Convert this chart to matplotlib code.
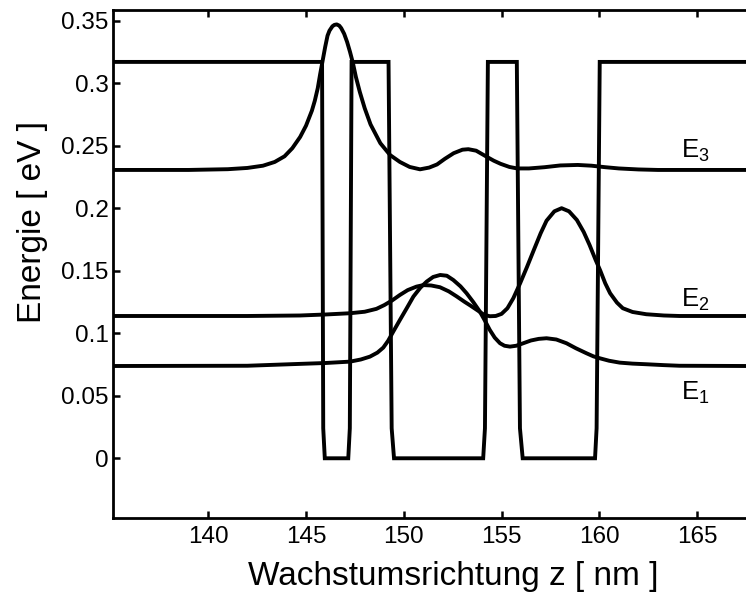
import matplotlib
matplotlib.use("Agg")
import matplotlib.pyplot as plt

plt.rcParams["font.family"] = ["Liberation Sans", "DejaVu Sans"]
plt.rcParams["mathtext.default"] = "regular"

# conduction band edge (eV) along growth direction (nm)
V_b = 0.317
z_pot = [135.13, 145.82, 145.88, 145.96, 147.16, 147.24, 147.33, 149.22, 149.38, 149.50,
         154.06, 154.15, 154.30, 155.78, 155.94, 156.08, 159.78, 159.86, 160.02, 167.5]
v_pot = [V_b, V_b, 0.024, 0.0, 0.0, 0.024, V_b, V_b, 0.024, 0.0,
         0.0, 0.024, V_b, V_b, 0.024, 0.0, 0.0, 0.024, V_b, V_b]

# |psi|^2 of the three subbands, offset by their energies
z_e3 = [135.13, 139.0, 141.0, 142.0, 142.8, 143.4, 143.9, 144.3, 144.7, 145.0, 145.3,
        145.45, 145.6, 145.72, 145.85, 145.98, 146.1, 146.2, 146.35, 146.45, 146.57,
        146.7, 146.8, 146.95, 147.1, 147.25, 147.4, 147.55, 147.75, 148.0, 148.3,
        148.8, 149.3, 149.8, 150.3, 150.83, 151.3, 151.7, 152.1, 152.55, 153.0, 153.3,
        153.7, 154.2, 154.6, 154.95, 155.4, 155.8, 156.4, 157.2, 158.0, 158.9, 159.6,
        160.3, 161.0, 162.0, 163.0, 167.5]
v_e3 = [0.2306, 0.2306, 0.2312, 0.2322, 0.2340, 0.2370, 0.2415, 0.2480, 0.2570, 0.2660,
        0.2780, 0.2860, 0.2960, 0.3070, 0.3180, 0.3290, 0.3380, 0.3420, 0.3455, 0.3466,
        0.3470, 0.3460, 0.3440, 0.3395, 0.3330, 0.3250, 0.3160, 0.3050, 0.2930, 0.2800,
        0.2670, 0.2520, 0.2425, 0.2370, 0.2330, 0.2311, 0.2325, 0.2350, 0.2395, 0.2440,
        0.2468, 0.2472, 0.2460, 0.2415, 0.2380, 0.2355, 0.2330, 0.2318, 0.2318, 0.2328,
        0.2342, 0.2346, 0.2340, 0.2328, 0.2318, 0.2310, 0.2306, 0.2306]

z_e2 = [135.13, 142.0, 144.7, 146.0, 147.25, 148.0, 148.6, 149.0, 149.4, 149.8, 150.2,
        150.65, 151.0, 151.4, 151.85, 152.3, 152.7, 153.1, 153.4, 153.8, 154.1, 154.4,
        154.7, 155.0, 155.3, 155.6, 155.95, 156.3, 156.65, 157.0, 157.3, 157.7, 158.07,
        158.45, 158.85, 159.2, 159.5, 159.8, 160.05, 160.3, 160.55, 160.9, 161.2, 161.7,
        162.4, 163.3, 164.1, 167.5]
v_e2 = [0.1138, 0.1138, 0.1142, 0.1150, 0.1160, 0.1172, 0.1195, 0.1225, 0.1262, 0.1306,
        0.1345, 0.1373, 0.1385, 0.1382, 0.1368, 0.1335, 0.1295, 0.1252, 0.1222, 0.1180,
        0.1148, 0.1136, 0.1138, 0.1155, 0.1200, 0.1280, 0.1400, 0.1530, 0.1666, 0.1800,
        0.1900, 0.1975, 0.2000, 0.1975, 0.1906, 0.1810, 0.1706, 0.1590, 0.1500, 0.1400,
        0.1320, 0.1245, 0.1200, 0.1170, 0.1152, 0.1142, 0.1138, 0.1138]

z_e1 = [135.13, 142.0, 144.7, 146.0, 147.25, 147.8, 148.27, 148.65, 148.95, 149.2, 149.45,
        149.8, 150.15, 150.49, 150.85, 151.17, 151.5, 151.86, 152.2, 152.53, 152.9, 153.21,
        153.55, 153.89, 154.15, 154.4, 154.65, 154.92, 155.15, 155.43, 155.75, 156.11,
        156.5, 156.9, 157.3, 157.8, 158.32, 158.8, 159.34, 159.7, 160.02, 160.5, 161.04,
        161.7, 162.41, 163.3, 164.1, 167.5]
v_e1 = [0.0738, 0.0740, 0.0755, 0.0762, 0.0773, 0.0790, 0.0813, 0.0845, 0.0885, 0.0940,
        0.1010, 0.1106, 0.1200, 0.1293, 0.1365, 0.1413, 0.1450, 0.1466, 0.1460, 0.1426,
        0.1375, 0.1320, 0.1250, 0.1173, 0.1100, 0.1026, 0.0965, 0.0920, 0.0900, 0.0893,
        0.0900, 0.0920, 0.0942, 0.0955, 0.0960, 0.0950, 0.0920, 0.0880, 0.0840, 0.0815,
        0.0800, 0.0780, 0.0765, 0.0757, 0.0752, 0.0745, 0.0740, 0.0738]

labels = ["E$_1$", "E$_2$", "E$_3$"]
label_z = 164.2
label_v = [0.0466, 0.1213, 0.2400]

yticks = [0, 0.05, 0.1, 0.15, 0.2, 0.25, 0.3, 0.35]
ytick_labels = ["0", "0.05", "0.1", "0.15", "0.2", "0.25", "0.3", "0.35"]
xticks = [140, 145, 150, 155, 160, 165]

fig = plt.figure(figsize=(7.46, 5.94), dpi=100)
ax = fig.add_axes([0.1515, 0.1285, 0.8485, 0.8542])

lw = 2.8
ax.plot(z_pot, v_pot, color="black", lw=lw, solid_joinstyle="miter")
ax.plot(z_e3, v_e3, color="black", lw=lw)
ax.plot(z_e2, v_e2, color="black", lw=lw)
ax.plot(z_e1, v_e1, color="black", lw=lw)

for txt, v in zip(labels, label_v):
    ax.text(label_z, v, txt, fontsize=18.5, ha="left", va="baseline")

ax.set_xlim(135.13, 167.5)
ax.set_ylim(-0.0475, 0.3583)
ax.set_xticks(xticks)
ax.set_yticks(yticks)
ax.set_yticklabels(ytick_labels)
ax.tick_params(axis="both", direction="in", length=5, width=1.8, labelsize=17.5,
               top=True, right=False)
ax.tick_params(axis="x", pad=6)
ax.tick_params(axis="y", pad=3)
for side in ["left", "bottom", "top"]:
    ax.spines[side].set_linewidth(2.0)
ax.spines["right"].set_visible(False)

ax.set_xlabel("Wachstumsrichtung z [ nm ]", fontsize=24)
ax.set_ylabel("Energie [ eV ]", fontsize=24)
ax.xaxis.set_label_coords(0.537, -0.085)
ax.yaxis.set_label_coords(-0.103, 0.583)

fig.savefig("out.png", dpi=100)
